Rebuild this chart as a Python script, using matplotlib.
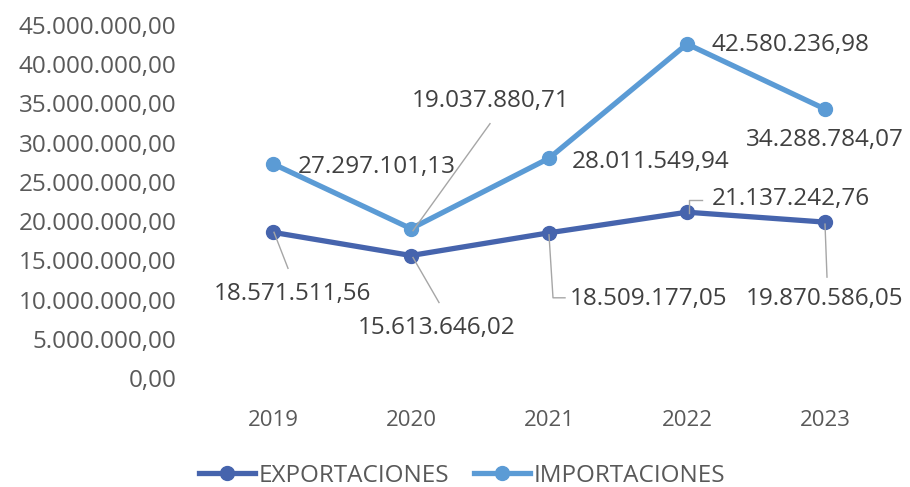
import matplotlib
matplotlib.use("Agg")
import matplotlib.pyplot as plt
from matplotlib.lines import Line2D
from matplotlib.ticker import FuncFormatter, MultipleLocator

years = ["2019", "2020", "2021", "2022", "2023"]
exportaciones = [18571511.56, 15613646.02, 18509177.05, 21137242.76, 19870586.05]
importaciones = [27297101.13, 19037880.71, 28011549.94, 42580236.98, 34288784.07]
series_names = ["EXPORTACIONES", "IMPORTACIONES"]

FONT = "Open Sans"
plt.rcParams["font.family"] = [FONT, "DejaVu Sans"]

def fmt_es(v, pos=None):
    s = f"{v:,.2f}"
    return s.replace(",", "X").replace(".", ",").replace("X", ".")

C_EXP = "#4664AD"
C_IMP = "#5B9BD5"
TICK_C = "#595959"
LAB_C = "#404040"
LEAD_C = "#A6A6A6"
FS = 17.5

fig = plt.figure(figsize=(9.10, 4.87), dpi=100)
ax = fig.add_axes([204 / 910, (487 - 378) / 487, 690 / 910, 353 / 487])

x = list(range(len(years)))
ax.plot(x, exportaciones, color=C_EXP, lw=3.8, marker="o", ms=10,
        solid_capstyle="round", label=series_names[0], zorder=3)
ax.plot(x, importaciones, color=C_IMP, lw=3.8, marker="o", ms=10,
        solid_capstyle="round", label=series_names[1], zorder=3)

ax.set_xlim(-0.5, len(years) - 0.5)
ax.set_ylim(0, 45000000)
ax.yaxis.set_major_locator(MultipleLocator(5000000))
ax.yaxis.set_major_formatter(FuncFormatter(fmt_es))
ax.set_xticks(x)
ax.set_xticklabels(years)
for s in ax.spines.values():
    s.set_visible(False)
ax.tick_params(axis="both", length=0, colors=TICK_C)
ax.tick_params(axis="y", pad=20, labelsize=FS)
ax.tick_params(axis="x", pad=23, labelsize=16)

# label anchor offsets (pixels, x right / y up) relative to points, and h-alignment
imp_off = [(25, -3, "left"), (80, 128, "center"), (23, -4, "left"),
           (25, -1, "left"), (0, -31, "center")]
exp_off = [(19, -62, "center"), (26, -72, "center"), (21, -66, "left"),
           (25, 13, "left"), (0, -77, "center")]
# leader line vertices (pixels relative to point); None = no leader
imp_lead = [None, [(2, -2), (79, 105)], None, None, None]
exp_lead = [[(1, 0), (15, -36)],
            [(2, -2), (28, -47)],
            [(0, -2), (4, -65), (16, -65)],
            [(2, -1), (2, 12), (15, 12)],
            [(0, -2), (2, -55)]]

fig.canvas.draw()
for vals, offs, leads in ((importaciones, imp_off, imp_lead),
                          (exportaciones, exp_off, exp_lead)):
    for i, v in enumerate(vals):
        dx, dy, ha = offs[i]
        ax.annotate(fmt_es(v), (i, v), xytext=(dx * 0.72, dy * 0.72),
                    textcoords="offset points", ha=ha, va="center",
                    fontsize=FS, color=LAB_C, zorder=4)
        if leads[i] is not None:
            px, py = ax.transData.transform((i, v))
            xs = [px + a for a, b in leads[i]]
            ys = [py + b for a, b in leads[i]]
            fig.add_artist(Line2D(xs, ys, transform=None, color=LEAD_C,
                                  lw=1.0, zorder=5))

handles = [Line2D([0], [0], color=C_EXP, lw=3.8, marker="o", ms=10),
           Line2D([0], [0], color=C_IMP, lw=3.8, marker="o", ms=10)]
leg = fig.legend(handles, series_names, loc="center", ncol=2,
                 bbox_to_anchor=(462 / 910, 1 - 476 / 487), frameon=False,
                 fontsize=FS, handlelength=2.3, handletextpad=0.15,
                 columnspacing=1.0)
for t in leg.get_texts():
    t.set_color(TICK_C)

fig.savefig("out.png", dpi=100)
